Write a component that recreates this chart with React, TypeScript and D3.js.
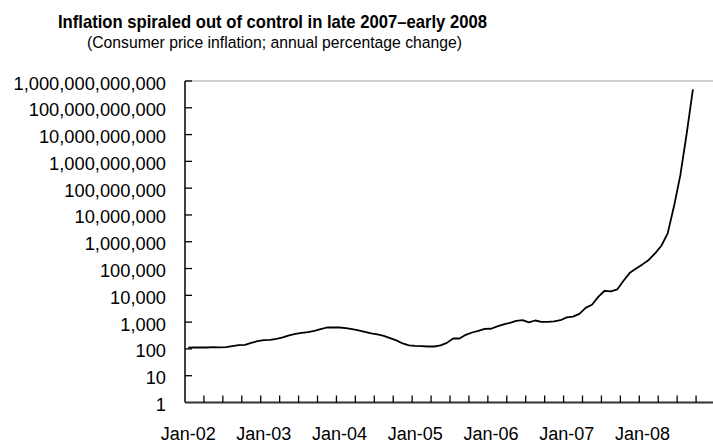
import React from "react";
import * as d3 from "d3";

// Consumer price inflation, annual % change, monthly from Jan-2002 to Sep-2008
const startMonth = new Date(2002, 0, 1);
const monthCount = 84; // category slots on the axis: Jan-02 .. Dec-08
const inflation: number[] = [
  112, 113, 113, 113, 116, 114, 116, 128, 138, 141, 168, 195,
  213, 218, 238, 268, 318, 364, 398, 424, 470, 550, 630, 630,
  630, 600, 550, 490, 435, 380, 347, 307, 252, 208, 160, 135,
  130, 128, 123, 123, 135, 168, 245, 245, 337, 410, 470, 560,
  565, 690, 820, 940, 1120, 1180, 980, 1150, 1030, 1030, 1060, 1180,
  1500, 1600, 2040, 3400, 4450, 8800, 14800, 14000, 16600, 35000, 69000, 100000,
  143000, 210000, 370000, 710000, 2.05e6, 2.1e7, 3e8, 1.05e10, 4.9e11,
];
const xTickLabels: string[] = ["Jan-02", "Jan-03", "Jan-04", "Jan-05", "Jan-06", "Jan-07", "Jan-08"];
const yTickValues: number[] = [1, 10, 100, 1e3, 1e4, 1e5, 1e6, 1e7, 1e8, 1e9, 1e10, 1e11, 1e12];

const title = "Inflation spiraled out of control in late 2007\u2013early 2008";
const subtitle = "(Consumer price inflation; annual percentage change)";

const W = 713;
const H = 445;
const plot = { left: 185, right: 715, top: 81, bottom: 402.5 };
const font = "'Liberation Sans', Arial, Helvetica, sans-serif";

export default function App() {
  const months = d3.timeMonth.range(startMonth, d3.timeMonth.offset(startMonth, inflation.length));
  const x = d3.scaleLinear().domain([0, monthCount]).range([plot.left, plot.right]);
  const y = d3.scaleLog().domain([1, 1e12]).range([plot.bottom, plot.top]);
  const fmt = d3.format(",.0f");

  const line = d3
    .line<number>()
    .x((_, i) => x(i + 0.5))
    .y((v) => y(v));

  const tickSlots = d3.range(3, monthCount + 1, 3);

  return (
    <div style={{ position: "absolute", left: 0, top: 0 }}>
      <svg width={W} height={H} style={{ display: "block", background: "#fff" }}>
        <text
          x={58}
          y={28}
          fontFamily={font}
          fontWeight="bold"
          fontSize={17.8}
          textLength={429}
          lengthAdjust="spacingAndGlyphs"
          fill="#000"
        >
          {title}
        </text>
        <text
          x={87}
          y={48}
          fontFamily={font}
          fontSize={16.3}
          textLength={375}
          lengthAdjust="spacingAndGlyphs"
          fill="#000"
        >
          {subtitle}
        </text>

        {/* plot area top border */}
        <line x1={plot.left} x2={plot.right} y1={plot.top} y2={plot.top} stroke="#a0a0a0" strokeWidth={1.2} />

        {/* y axis */}
        <line x1={plot.left} x2={plot.left} y1={plot.top} y2={plot.bottom} stroke="#000" strokeWidth={1.5} />
        {yTickValues.map((v) => (
          <g key={v}>
            {v > 1 && (
              <line x1={plot.left} x2={plot.left + 7} y1={y(v)} y2={y(v)} stroke="#000" strokeWidth={1.3} />
            )}
            <text x={166} y={y(v) + 8.5} textAnchor="end" fontFamily={font} fontSize={18.3} fill="#000">
              {fmt(v)}
            </text>
          </g>
        ))}

        {/* x axis */}
        <line x1={plot.left} x2={plot.right} y1={plot.bottom} y2={plot.bottom} stroke="#333" strokeWidth={1.8} />
        {tickSlots.map((s) => (
          <line key={s} x1={x(s)} x2={x(s)} y1={plot.bottom} y2={plot.bottom - 7} stroke="#000" strokeWidth={1.3} />
        ))}
        {xTickLabels.map((lab, k) => (
          <text key={lab} x={x(k * 12 + 0.5)} y={440} textAnchor="middle" fontFamily={font} fontSize={18} fill="#000">
            {lab}
          </text>
        ))}

        <path
          d={line(inflation) ?? ""}
          fill="none"
          stroke="#000"
          strokeWidth={1.8}
          strokeLinejoin="round"
          data-months={months.length}
        />
      </svg>
    </div>
  );
}
